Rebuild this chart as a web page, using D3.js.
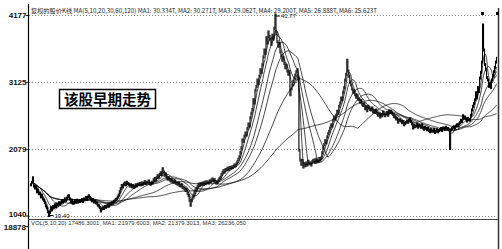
<!DOCTYPE html>
<html><head><meta charset="utf-8">
<script src="https://cdn.jsdelivr.net/npm/d3@7"></script>
<style>body{margin:0;background:#fff}svg{display:block}</style>
</head><body>
<script>
// daily closing prices (yuan), one per trading day
const closes = [
15.2,15.6,16.3,15.0,14.7,14.9,14.1,14.4,13.8,13.9,
13.3,13.6,13.0,12.8,12.4,11.9,11.6,11.0,10.4,10.9,
11.6,11.3,11.8,11.7,12.1,11.8,12.2,12.0,12.4,12.2,
12.4,12.7,12.5,12.7,13.0,12.8,13.1,13.4,13.5,13.0,
12.5,12.8,12.3,12.4,12.7,12.5,12.8,12.5,12.7,12.6,
12.7,12.9,12.6,13.0,13.0,13.2,12.9,13.3,13.5,13.2,
13.0,12.7,12.9,12.5,12.6,12.4,12.3,12.0,11.9,11.6,
11.1,11.4,11.6,11.5,11.8,11.7,11.9,12.1,11.9,12.2,
12.2,12.4,12.3,12.6,12.7,12.9,13.0,13.3,13.6,14.1,
14.6,15.1,14.9,15.3,15.5,15.2,15.6,15.4,15.3,15.0,
15.2,14.9,15.1,14.8,14.9,15.2,15.0,15.3,15.2,15.4,
15.2,15.5,15.3,15.5,15.7,15.4,15.6,15.6,15.8,15.4,
15.3,15.6,15.5,16.0,16.2,15.9,16.3,16.6,16.4,16.8,
17.1,16.8,17.7,17.2,16.7,16.9,16.4,16.1,16.3,16.0,
15.8,16.0,15.7,15.6,15.8,15.5,15.4,15.3,15.5,15.1,
15.0,15.2,14.8,14.7,14.6,14.3,14.5,13.9,13.5,12.8,
12.0,12.7,13.3,13.6,14.0,14.4,14.6,14.9,15.3,15.1,
15.4,15.2,15.5,15.3,15.6,15.4,15.7,15.6,15.5,15.8,
15.7,16.0,16.1,15.8,16.0,15.7,15.5,15.6,15.9,16.2,
16.4,16.8,17.1,17.4,17.2,17.6,17.5,17.8,17.6,17.9,
17.8,18.0,17.9,18.1,18.3,18.2,18.5,18.8,19.2,19.6,
20.2,21.0,22.2,22.0,22.8,23.3,23.0,24.0,24.7,24.4,
25.7,26.4,27.0,28.5,28.0,30.0,30.6,31.6,31.0,32.2,
33.2,32.8,34.0,35.2,36.3,35.8,38.2,37.4,39.1,38.4,
37.9,37.2,38.6,38.0,39.7,41.77,39.0,37.6,36.9,37.3,
36.0,35.4,34.7,35.1,34.2,33.5,33.9,33.0,32.5,32.9,
29.3,30.2,30.8,31.4,31.9,32.4,32.9,33.2,31.9,20.6,
19.1,18.4,19.0,18.0,18.5,18.2,18.6,18.3,18.9,18.5,
18.6,18.3,18.8,19.0,19.1,18.7,19.2,18.8,18.9,19.3,
19.1,19.4,20.2,21.0,21.5,22.1,21.8,22.7,23.2,23.6,
24.1,24.6,24.4,25.3,25.8,25.5,26.1,26.7,26.4,27.5,
28.0,28.8,28.5,29.7,30.4,31.6,32.5,34.7,33.0,32.2,
31.3,30.8,30.2,29.7,29.9,29.3,28.9,29.2,28.6,28.5,
28.1,28.4,27.8,27.6,27.9,27.1,27.4,26.8,27.5,27.2,
27.0,26.9,27.2,26.6,26.8,26.5,26.9,26.4,26.1,26.3,
25.8,26.2,26.0,26.6,26.3,26.0,26.3,26.5,26.1,26.8,
26.5,26.7,26.4,26.2,25.9,25.8,25.5,25.6,25.0,25.3,
25.4,25.2,24.9,25.1,24.6,24.8,25.0,25.2,25.0,25.3,
25.5,25.1,24.7,24.1,24.5,24.3,24.4,24.7,24.2,24.5,
24.4,24.2,24.6,24.1,23.9,24.2,24.0,23.8,24.1,23.7,
23.5,23.8,23.6,23.6,23.9,23.4,23.6,23.8,23.5,23.7,
23.8,24.0,23.7,24.1,24.1,23.9,24.2,23.9,24.0,23.8,
20.9,23.8,24.0,24.2,24.3,24.1,24.4,24.6,24.5,24.7,
24.9,25.3,25.1,26.0,25.6,25.8,25.5,25.2,25.6,25.4,
25.3,26.1,26.9,27.5,27.9,28.5,29.6,28.8,30.4,29.8,
31.9,32.8,34.4,40.2,36.3,34.0,33.2,32.0,31.6,30.6,
31.0,30.4,31.6,32.3,32.9,33.6,34.4,35.0
];
const maPeriods = [5, 10, 20, 30, 60, 120];
const priceTicks = [10.40, 20.79, 31.25, 41.77];
const volTickLabels = ["18878"];
const titleText = "复权的股价K线 MA(5,10,20,30,60,120) MA1: 30.334T, MA2: 30.271T, MA3: 29.062T, MA4: 29.200T, MA5: 26.888T, MA6: 25.623T";
const volText = "VOL(5,10,20) 17486.3001, MA1: 21979.6003, MA2: 21379.3013, MA3: 26236.050";
const noteText = "该股早期走势";

const W = 502, H = 249;
const svg = d3.select("body").append("svg").attr("width", W).attr("height", H);

const x = d3.scaleLinear().domain([0, closes.length - 1]).range([30.5, 496.5]);
const y = d3.scaleLinear().domain([10.40, 41.77]).range([215.5, 15]);

// dotted grid lines
svg.append("g").selectAll("line").data(priceTicks).join("line")
  .attr("x1", 29).attr("x2", 497)
  .attr("y1", d => Math.round(y(d)) + 0.5).attr("y2", d => Math.round(y(d)) + 0.5)
  .attr("stroke", "#8a8a8a").attr("stroke-width", 1).attr("stroke-dasharray", "1,2");

// moving averages
const mas = maPeriods.map(p => closes.map((c, i) => {
  const s = Math.max(0, i - p + 1);
  return d3.mean(closes.slice(s, i + 1));
}));
const line = d3.line().x((d, i) => x(i)).y(d => y(d)).curve(d3.curveLinear);
svg.append("g").selectAll("path").data(mas).join("path")
  .attr("d", line).attr("fill", "none").attr("stroke", "#1a1a1a").attr("stroke-width", 0.8);

// price bars
svg.append("g").selectAll("line").data(closes).join("line")
  .attr("x1", (d, i) => x(i)).attr("x2", (d, i) => x(i))
  .attr("y1", (d, i) => Math.min(y(d), y(i ? closes[i - 1] : d)) - 1.5)
  .attr("y2", (d, i) => Math.max(y(d), y(i ? closes[i - 1] : d)) + 1.5)
  .attr("stroke", "#000").attr("stroke-width", 1.1);

// axes
const yAxis = d3.axisLeft(y).tickValues(priceTicks).tickSize(3).tickFormat(d => Math.round(d * 100));
const ga = svg.append("g").attr("transform", "translate(28.5,0)").call(yAxis);
ga.select(".domain").remove();
ga.selectAll("text").attr("font-family", "Liberation Sans, Arial, sans-serif")
  .attr("font-weight", "bold").attr("font-size", 8).attr("fill", "#111").attr("x", -2);
ga.selectAll(".tick").filter(d => d === priceTicks[0]).select("text").attr("dy", "0.1em");
ga.selectAll("line").attr("stroke", "#222");

svg.append("line").attr("x1", 28.5).attr("x2", 28.5).attr("y1", 4).attr("y2", H).attr("stroke", "#000").attr("stroke-width", 1.2);
svg.append("line").attr("x1", 498.5).attr("x2", 498.5).attr("y1", 8).attr("y2", H).attr("stroke", "#333").attr("stroke-width", 1.5);

// volume panel separator
svg.append("line").attr("x1", 28).attr("x2", 498).attr("y1", 219.5).attr("y2", 219.5).attr("stroke", "#444").attr("stroke-width", 1);
svg.append("line").attr("x1", 25).attr("x2", 28).attr("y1", 226.5).attr("y2", 226.5).attr("stroke", "#222");
svg.selectAll(".vl").data(volTickLabels).join("text").attr("class", "vl")
  .attr("x", 26).attr("y", 230).attr("text-anchor", "end")
  .attr("font-family", "Liberation Sans, Arial, sans-serif").attr("font-weight", "bold")
  .attr("font-size", 8).attr("fill", "#111").text(d => d);
svg.append("text").attr("x", 31).attr("y", 225).attr("font-family", "Liberation Sans, Arial, sans-serif")
  .attr("font-size", 5.5).attr("fill", "#333").attr("textLength", 215).attr("lengthAdjust", "spacingAndGlyphs").text(volText);

// title legend
svg.append("text").attr("x", 31).attr("y", 12.5).attr("font-family", "Noto Sans CJK SC, Liberation Sans, sans-serif")
  .attr("font-size", 6).attr("fill", "#222").attr("textLength", 346).attr("lengthAdjust", "spacingAndGlyphs").text(titleText);

// high / low labels
const iMax = d3.maxIndex(closes), iMin = d3.minIndex(closes);
svg.append("line").attr("x1", x(iMax)).attr("x2", x(iMax) + 5).attr("y1", y(closes[iMax]) + 1).attr("y2", y(closes[iMax]) + 1).attr("stroke", "#000");
svg.append("text").attr("x", x(iMax) + 6).attr("y", y(closes[iMax]) + 3).attr("font-family", "Liberation Sans, Arial, sans-serif")
  .attr("font-size", 6).attr("fill", "#111").text(d3.format(".2f")(closes[iMax]));
svg.append("line").attr("x1", x(iMin)).attr("x2", x(iMin) + 5).attr("y1", y(closes[iMin])).attr("y2", y(closes[iMin])).attr("stroke", "#000");
svg.append("text").attr("x", x(iMin) + 6).attr("y", y(closes[iMin]) + 2).attr("font-family", "Liberation Sans, Arial, sans-serif")
  .attr("font-size", 6).attr("fill", "#111").text(d3.format(".2f")(closes[iMin]));

// markers
svg.append("rect").attr("x", x(453) - 1.5).attr("y", 12).attr("width", 3).attr("height", 3).attr("fill", "#000");
svg.append("rect").attr("x", 496).attr("y", 12).attr("width", 3).attr("height", 3).attr("fill", "#000");

// annotation box
svg.append("rect").attr("x", 59.5).attr("y", 89.5).attr("width", 96).attr("height", 19)
  .attr("fill", "#fff").attr("stroke", "#000").attr("stroke-width", 1.5);
svg.append("text").attr("x", 107.5).attr("y", 104.5).attr("text-anchor", "middle")
  .attr("font-family", "Noto Sans CJK SC, sans-serif").attr("font-weight", "bold").attr("font-size", 14.5)
  .attr("fill", "#000").text(noteText);
</script>
</body></html>
